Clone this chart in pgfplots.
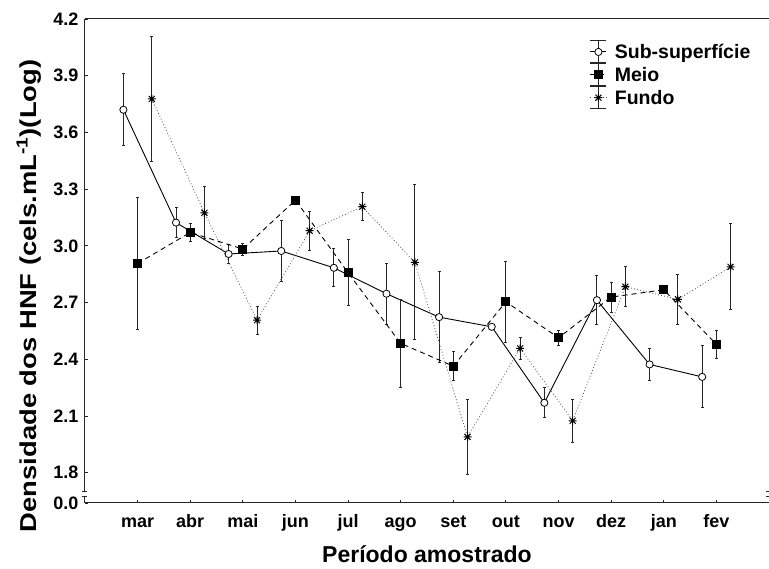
\documentclass[border=0pt]{standalone}
\usepackage{fontspec}
\setmainfont{Liberation Sans}
\usepackage{pgfplots}
\pgfplotsset{compat=1.18}
\usepackage{pgfplotstable}

\pgfdeclareplotmark{ast8}{%
  \pgfpathmoveto{\pgfqpoint{-\pgfplotmarksize}{0pt}}%
  \pgfpathlineto{\pgfqpoint{\pgfplotmarksize}{0pt}}%
  \pgfpathmoveto{\pgfqpoint{0pt}{-\pgfplotmarksize}}%
  \pgfpathlineto{\pgfqpoint{0pt}{\pgfplotmarksize}}%
  \pgfpathmoveto{\pgfqpoint{-0.75\pgfplotmarksize}{-0.75\pgfplotmarksize}}%
  \pgfpathlineto{\pgfqpoint{0.75\pgfplotmarksize}{0.75\pgfplotmarksize}}%
  \pgfpathmoveto{\pgfqpoint{-0.75\pgfplotmarksize}{0.75\pgfplotmarksize}}%
  \pgfpathlineto{\pgfqpoint{0.75\pgfplotmarksize}{-0.75\pgfplotmarksize}}%
  \pgfusepathqstroke}

\pgfplotstableread{
x y e
0.73 3.720 0.190
1.73 3.123 0.080
2.73 2.957 0.050
3.73 2.973 0.162
4.73 2.884 0.100
5.73 2.747 0.160
6.73 2.623 0.240
7.73 2.572 0.000
8.73 2.170 0.080
9.73 2.713 0.130
10.73 2.373 0.087
11.73 2.307 0.164
}\subdata

\pgfplotstableread{
x y e
1 2.907 0.348
2 3.071 0.048
3 2.983 0.032
4 3.242 0.000
5 2.858 0.175
6 2.484 0.235
7 2.364 0.076
8 2.704 0.215
9 2.514 0.040
10 2.729 0.080
11 2.768 0.000
12 2.479 0.073
}\meiodata

\pgfplotstableread{
x y e
1.27 3.777 0.332
2.27 3.175 0.137
3.27 2.607 0.075
4.27 3.080 0.104
5.27 3.207 0.073
6.27 2.913 0.410
7.27 1.990 0.199
8.27 2.458 0.060
9.27 2.075 0.114
10.27 2.784 0.107
11.27 2.717 0.134
12.27 2.889 0.227
}\fundodata

\pgfplotsset{
  errleg/.style={legend image code/.code={
    \draw[black!85, line width=0.9pt, solid] (0pt,-11pt) -- (0pt,11pt);
    \draw[black!85, line width=0.9pt, solid] (-8pt,-11pt) -- (8pt,-11pt) (-8pt,11pt) -- (8pt,11pt);
    \draw[##1, mark repeat=2, mark phase=2] plot coordinates {(-8pt,0pt) (0pt,0pt) (8pt,0pt)};
  }},
}

\begin{document}
\begin{tikzpicture}
\begin{axis}[
  scale only axis, width=684pt, height=484pt,
  xmin=0, xmax=13, ymin=1.64, ymax=4.2,
  axis x line*=box, axis y line*=left,
  axis line style={black!85, line width=1pt},
  xtick pos=left, ytick pos=left,
  tick align=inside, major tick length=3pt,
  tick style={black!85, line width=0.9pt},
  xtick={1,...,12},
  xticklabels={mar,abr,mai,jun,jul,ago,set,out,nov,dez,jan,fev},
  ytick={1.64,1.8,2.1,2.4,2.7,3.0,3.3,3.6,3.9,4.2},
  yticklabels={0.0,1.8,2.1,2.4,2.7,3.0,3.3,3.6,3.9,4.2},
  /pgf/number format/assume math mode=true,
  tick label style={font=\fontsize{18}{21}\selectfont\bfseries},
  xticklabel style={anchor=base, yshift=-25pt},
  yticklabel style={anchor=east, xshift=-3pt},
  xlabel={Período amostrado},
  xlabel style={font=\fontsize{23}{27}\selectfont\bfseries, at={(axis description cs:0.5,0)}, anchor=base, yshift=-60pt},
  ylabel={\scalebox{1.19}[1]{Densidade dos HNF (cels.mL\textsuperscript{-1})(Log)}},
  ylabel style={font=\fontsize{23}{27}\selectfont\bfseries, at={(axis description cs:-0.0819,0.428)}, anchor=center},
  legend style={font=\fontsize{19.5}{23}\selectfont\bfseries, draw=none, fill=none,
    at={(rel axis cs:0.738,0.956)}, anchor=north west,
    row sep=0pt, inner sep=0pt, nodes={inner sep=1pt},
    /tikz/every odd column/.append style={column sep=7pt}},
  legend cell align=left,
  clip=false,
  error bars/y dir=both, error bars/y explicit,
  error bars/error bar style={black!85, line width=1pt, solid},
  error bars/error mark options={rotate=90, black!85, mark size=1.5pt, line width=0.9pt, solid},
]
\addplot[black, line width=0.9pt, solid, mark=*, mark size=3.6pt, mark options={fill=white, solid, line width=0.8pt}, errleg]
  table[x=x, y=y, y error=e] {\subdata};
\addlegendentry{Sub-superfície}
\addplot[black, line width=0.9pt, dash pattern=on 5pt off 4pt, mark=square*, mark size=4pt, mark options={solid}, errleg]
  table[x=x, y=y, y error=e] {\meiodata};
\addlegendentry{Meio}
\addplot[black!65, line width=0.8pt, dash pattern=on 0.9pt off 2.2pt, mark=ast8, mark size=4pt, mark options={solid, black, line width=1pt}, errleg]
  table[x=x, y=y, y error=e] {\fundodata};
\addlegendentry{Fundo}
% axis break marks
\fill[white] ([xshift=-4pt]axis cs:0,1.673) rectangle ([xshift=4pt]axis cs:0,1.703);
\draw[black!85, line width=0.9pt] ([xshift=-3pt]axis cs:0,1.703) -- ([xshift=2pt]axis cs:0,1.703);
\draw[black!85, line width=0.9pt] ([xshift=-3pt]axis cs:0,1.673) -- ([xshift=2pt]axis cs:0,1.673);
\draw[black!85, line width=0.9pt] ([xshift=-3pt]axis cs:13,1.703) -- (axis cs:13,1.703);
\draw[black!85, line width=0.9pt] ([xshift=-3pt]axis cs:13,1.673) -- (axis cs:13,1.673);
\coordinate (SW) at (rel axis cs:0,0);
\coordinate (NE) at (rel axis cs:1,1);
\end{axis}
\pgfresetboundingbox
\path ([xshift=-85pt,yshift=-66pt]SW) rectangle ([yshift=19pt]NE);
\end{tikzpicture}
\end{document}
